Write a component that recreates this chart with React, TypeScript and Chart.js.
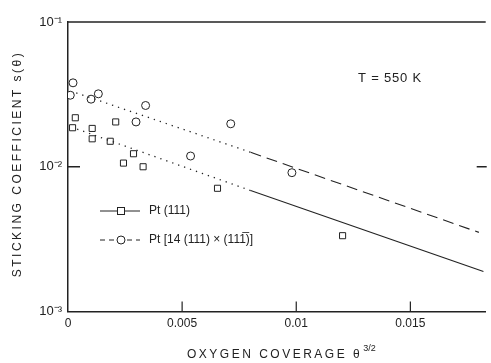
import React, { useEffect, useRef } from "react";
import { Chart, registerables } from "chart.js";

Chart.register(...registerables);

// Pt(111) measurements
const squareX = [0.0002, 0.00032, 0.00106, 0.00106, 0.00185, 0.00209, 0.00243, 0.00287, 0.00329, 0.00655, 0.01203];
const squareY = [0.0186, 0.0218, 0.0184, 0.0156, 0.0150, 0.0204, 0.0106, 0.0123, 0.0100, 0.0071, 0.00334];
// Pt[14(111)x(11-1)] measurements
const circleX = [0.0001, 0.00022, 0.00101, 0.00133, 0.00298, 0.0034, 0.00537, 0.00713, 0.00981];
const circleY = [0.0312, 0.0380, 0.0293, 0.0319, 0.0204, 0.0265, 0.01186, 0.0198, 0.0091];

// fitted lines: [start, transition, end]
const squareFitX = [0.0004, 0.008, 0.0182];
const squareFitY = [0.0182, 0.00685, 0.00189];
const circleFitX = [0.00036, 0.008, 0.018];
const circleFitY = [0.0324, 0.01259, 0.00352];

const xTicks = [0, 0.005, 0.01, 0.015];
const xTickLabels = ["0", "0.005", "0.01", "0.015"];
const yTicks = [0.001, 0.01, 0.1];
const yTickLabels = ["10⁻³", "10⁻²", "10⁻¹"];

const legendLabels = ["Pt (111)", "Pt [14 (111) × (111\u0305)]"];
const tempLabel = "T = 550 K";
const xTitle = "OXYGEN COVERAGE θ";
const xTitleSup = "3/2";
const yTitle = "STICKING COEFFICIENT s(θ)";

const INK = "#222";
const FONT = "'Liberation Sans', Arial, sans-serif";

const pts = (xs: number[], ys: number[]) => xs.map((x, i) => ({ x, y: ys[i] }));

const decor = {
  id: "decor",
  afterDraw(chart: any) {
    const { ctx, chartArea: a, scales } = chart;
    const xs = scales.x;
    const ys = scales.y;
    ctx.save();
    ctx.strokeStyle = INK;
    ctx.fillStyle = INK;
    // top border
    ctx.lineWidth = 1.5;
    ctx.beginPath();
    ctx.moveTo(a.left, a.top);
    ctx.lineTo(a.right, a.top);
    ctx.stroke();
    // inward ticks
    ctx.lineWidth = 1.2;
    xTicks.forEach((v) => {
      if (v === 0) return;
      const px = xs.getPixelForValue(v);
      ctx.beginPath();
      ctx.moveTo(px, a.bottom);
      ctx.lineTo(px, a.bottom - 10);
      ctx.stroke();
    });
    const py = ys.getPixelForValue(0.01);
    ctx.lineWidth = 1.5;
    ctx.beginPath();
    ctx.moveTo(a.left, py);
    ctx.lineTo(a.left + 12, py);
    ctx.moveTo(a.right + 1, py);
    ctx.lineTo(a.right - 9, py);
    ctx.stroke();

    // titles
    ctx.font = `12px ${FONT}`;
    (ctx as any).letterSpacing = "2.5px";
    ctx.textBaseline = "middle";
    ctx.textAlign = "left";
    const tx = 187;
    const ty = 355;
    ctx.fillText(xTitle, tx, ty);
    const w = ctx.measureText(xTitle).width;
    ctx.font = `9px ${FONT}`;
    (ctx as any).letterSpacing = "0px";
    ctx.fillText(xTitleSup, tx + w + 1, ty - 6);

    ctx.save();
    ctx.translate(18, 164);
    ctx.rotate(-Math.PI / 2);
    ctx.font = `12px ${FONT}`;
    (ctx as any).letterSpacing = "2.5px";
    ctx.textAlign = "center";
    ctx.fillText(yTitle, 0, 0);
    ctx.restore();

    // temperature label
    ctx.font = `13px ${FONT}`;
    (ctx as any).letterSpacing = "0.8px";
    ctx.textAlign = "left";
    ctx.fillText(tempLabel, 358, 78);
    (ctx as any).letterSpacing = "0px";

    // legend
    const lx = 100;
    const rows = [211, 240];
    ctx.lineWidth = 1;
    // row 1 solid with square
    ctx.beginPath();
    ctx.moveTo(lx, rows[0]);
    ctx.lineTo(lx + 40, rows[0]);
    ctx.stroke();
    ctx.fillStyle = "#fff";
    ctx.fillRect(lx + 17.5, rows[0] - 3.5, 7, 7);
    ctx.strokeRect(lx + 17.5, rows[0] - 3.5, 7, 7);
    // row 2 dashed with circle
    ctx.setLineDash([5, 4]);
    ctx.beginPath();
    ctx.moveTo(lx, rows[1]);
    ctx.lineTo(lx + 40, rows[1]);
    ctx.stroke();
    ctx.setLineDash([]);
    ctx.beginPath();
    ctx.arc(lx + 21, rows[1], 4, 0, Math.PI * 2);
    ctx.fill();
    ctx.stroke();
    ctx.fillStyle = INK;
    ctx.font = `12px ${FONT}`;
    ctx.fillText(legendLabels[0], lx + 49, rows[0]);
    ctx.fillText(legendLabels[1], lx + 49, rows[1]);
    ctx.restore();
  },
};

export default function App() {
  const ref = useRef<HTMLCanvasElement | null>(null);
  useEffect(() => {
    document.body.style.margin = "0";
    const chart = new Chart(ref.current as HTMLCanvasElement, {
      type: "scatter",
      data: {
        datasets: [
          {
            label: "dotted sq",
            data: pts(squareFitX.slice(0, 2), squareFitY.slice(0, 2)),
            showLine: true,
            borderColor: INK,
            borderWidth: 1.3,
            borderDash: [1.3, 5],
            pointRadius: 0,
          },
          {
            label: "solid sq",
            data: pts(squareFitX.slice(1), squareFitY.slice(1)),
            showLine: true,
            borderColor: INK,
            borderWidth: 1.1,
            pointRadius: 0,
          },
          {
            label: "dotted ci",
            data: pts(circleFitX.slice(0, 2), circleFitY.slice(0, 2)),
            showLine: true,
            borderColor: INK,
            borderWidth: 1.3,
            borderDash: [1.3, 5],
            pointRadius: 0,
          },
          {
            label: "dashed ci",
            data: pts(circleFitX.slice(1), circleFitY.slice(1)),
            showLine: true,
            borderColor: INK,
            borderWidth: 1.1,
            borderDash: [11, 6],
            pointRadius: 0,
          },
          {
            label: legendLabels[0],
            data: pts(squareX, squareY),
            pointStyle: "rect",
            pointRadius: 4.3,
            borderColor: INK,
            backgroundColor: "#fff",
            borderWidth: 1,
          },
          {
            label: legendLabels[1],
            data: pts(circleX, circleY),
            pointStyle: "circle",
            pointRadius: 4,
            borderColor: INK,
            backgroundColor: "#fff",
            borderWidth: 1,
          },
        ],
      },
      options: {
        animation: false,
        responsive: false,
        layout: { padding: { top: 22, right: 1, left: 0, bottom: 0 } },
        plugins: { legend: { display: false }, tooltip: { enabled: false } },
        scales: {
          x: {
            type: "linear",
            min: 0,
            max: 0.0183,
            afterBuildTicks: (s: any) => {
              s.ticks = xTicks.map((v) => ({ value: v }));
            },
            afterFit: (s: any) => {
              s.height = 51.5;
            },
            ticks: {
              callback: (v: any) => xTickLabels[xTicks.indexOf(Number(v))] ?? "",
              color: INK,
              font: { size: 12, family: FONT },
              padding: 5,
              maxRotation: 0,
            },
            grid: { display: false, drawTicks: false },
            border: { display: true, color: INK, width: 1.5 },
          },
          y: {
            type: "logarithmic",
            min: 0.001,
            max: 0.1,
            afterBuildTicks: (s: any) => {
              s.ticks = yTicks.map((v) => ({ value: v }));
            },
            afterFit: (s: any) => {
              s.width = 68;
            },
            ticks: {
              callback: (v: any) => yTickLabels[yTicks.findIndex((t) => Math.abs(t - Number(v)) < 1e-9)] ?? "",
              color: INK,
              font: { size: 13, family: FONT },
              padding: 6,
            },
            grid: { display: false, drawTicks: false },
            border: { display: true, color: INK, width: 1.5 },
          },
        },
      },
      plugins: [decor],
    });
    return () => chart.destroy();
  }, []);
  return (
    <div style={{ position: "fixed", left: 0, top: 0, width: 491, height: 363, background: "#fff" }}>
      <canvas ref={ref} width={491} height={363} style={{ width: 491, height: 363 }} />
    </div>
  );
}
